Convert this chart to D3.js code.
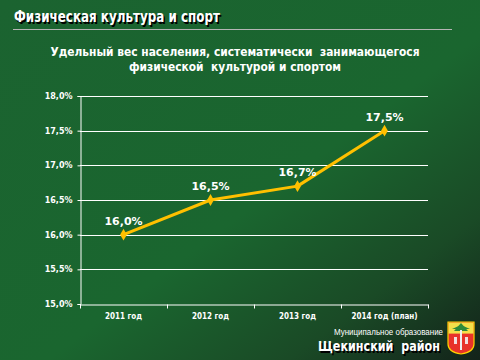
<!DOCTYPE html>
<html>
<head>
<meta charset="utf-8">
<script src="https://cdn.jsdelivr.net/npm/d3@7"></script>
<style>
  body { margin: 0; padding: 0; }
  svg { display: block; }
  text { white-space: pre; }
</style>
</head>
<body>
<svg id="chart" width="480" height="360"></svg>
<script>
// data
const years = ['2011 год', '2012 год', '2013 год', '2014 год (план)'];
const shares = [16.0, 16.5, 16.7, 17.5];
const yTicks = [15.0, 15.5, 16.0, 16.5, 17.0, 17.5, 18.0];
const headline = 'Физическая культура и спорт';
const subtitle = ['Удельный вес населения, систематически  занимающегося', 'физической  культурой и спортом'];
const subtitleWidths = [369, 212];

const svg = d3.select('#chart');
const W = 480, H = 360;

// background gradient, dark in lower right corner
let defs = svg.append('defs');
let bg = defs.append('linearGradient').attr('id', 'bg')
    .attr('x1', '0').attr('y1', '0').attr('x2', '1').attr('y2', '1');
bg.append('stop').attr('offset', '0%').attr('stop-color', '#1b6330');
bg.append('stop').attr('offset', '55%').attr('stop-color', '#1a662f');
bg.append('stop').attr('offset', '80%').attr('stop-color', '#1a4a26');
bg.append('stop').attr('offset', '100%').attr('stop-color', '#13231a');
svg.append('rect').attr('width', W).attr('height', H).attr('fill', 'url(#bg)');

// header with shadow
[['#000', 1.5], ['#fff', 0]].forEach(([c, o]) => {
    svg.append('text').attr('x', 14 + o).attr('y', 22 + o)
        .attr('fill', c).attr('font-family', 'DejaVu Sans Condensed, sans-serif')
        .attr('font-weight', 'bold').attr('font-size', 16)
        .attr('textLength', 206).attr('lengthAdjust', 'spacingAndGlyphs')
        .text(headline);
});
svg.append('line').attr('x1', 13).attr('x2', 452).attr('y1', 29.5).attr('y2', 29.5)
    .attr('stroke', '#b5b5b5').attr('stroke-width', 1);

svg.append('g').selectAll('text').data(subtitle).join('text')
    .attr('x', (d, i) => 235 - subtitleWidths[i] / 2).attr('y', (d, i) => 56 + i * 15)
    .attr('fill', '#fff')
    .attr('font-family', 'DejaVu Sans Condensed, sans-serif').attr('font-size', 12.5)
    .attr('font-weight', 'bold')
    .attr('textLength', (d, i) => subtitleWidths[i]).attr('lengthAdjust', 'spacingAndGlyphs')
    .text(d => d);

// chart area
const plotL = 80, plotR = 428, plotT = 96, plotB = 304;

const x = d3.scaleBand().domain(years).range([plotL, plotR]);
const y = d3.scaleLinear().domain([15, 18]).range([plotB, plotT]);

// grid
svg.append('g').selectAll('line').data(yTicks.slice(1)).join('line')
    .attr('x1', plotL).attr('x2', plotR)
    .attr('y1', d => Math.round(y(d)) + 0.5).attr('y2', d => Math.round(y(d)) + 0.5)
    .attr('stroke', '#fff').attr('stroke-width', 1);

// y axis
let yAxis = svg.append('g').attr('transform', `translate(${plotL + 0.5},0)`)
    .call(d3.axisLeft(y).tickValues(yTicks).tickSize(3).tickPadding(5)
        .tickFormat(d => d3.format('.1f')(d).replace('.', ',') + '%'));
yAxis.selectAll('path, line').attr('stroke', '#fff');
yAxis.selectAll('text').attr('fill', '#fff').attr('font-size', 8).attr('font-weight', 'bold')
    .attr('font-family', 'DejaVu Sans, sans-serif');

// x axis with ticks on band edges
let xAxis = svg.append('g').attr('transform', `translate(0,${Math.round(plotB) + 0.5})`)
    .call(d3.axisBottom(x).tickSize(0).tickPadding(9));
xAxis.select('path').attr('stroke', '#fff');
xAxis.selectAll('text').attr('fill', '#fff').attr('font-size', 8).attr('font-weight', 'bold')
    .attr('font-family', 'DejaVu Sans Condensed, sans-serif');
let edges = years.map(d => x(d)).concat([x(years[years.length - 1]) + x.bandwidth()]);
xAxis.selectAll('.edge').data(edges).join('line').attr('class', 'edge')
    .attr('x1', d => Math.round(d) + 0.5).attr('x2', d => Math.round(d) + 0.5)
    .attr('y1', 0).attr('y2', 4).attr('stroke', '#fff');

// line
const cx = d => x(d) + x.bandwidth() / 2;
const line = d3.line().x((d, i) => cx(years[i])).y(d => y(d));
svg.append('path').datum(shares).attr('d', line)
    .attr('fill', 'none').attr('stroke', '#ffc000').attr('stroke-width', 3)
    .attr('stroke-linejoin', 'round');

svg.append('g').selectAll('path').data(shares).join('path')
    .attr('transform', (d, i) => `translate(${cx(years[i])},${y(d)})`)
    .attr('d', d3.symbol(d3.symbolDiamond, 40))
    .attr('fill', '#ffc000');

svg.append('g').selectAll('text').data(shares).join('text')
    .attr('x', (d, i) => cx(years[i]))
    .attr('y', d => y(d) - 10)
    .attr('text-anchor', 'middle').attr('fill', '#fff')
    .attr('font-family', 'DejaVu Sans, sans-serif').attr('font-size', 11).attr('font-weight', 'bold')
    .text(d => d3.format('.1f')(d).replace('.', ',') + '%');

// municipality label
svg.append('text').attr('x', 334).attr('y', 335)
    .attr('fill', '#fff').attr('font-family', 'Liberation Sans Narrow, sans-serif').attr('font-size', 8.5)
    .attr('textLength', 109).attr('lengthAdjust', 'spacingAndGlyphs')
    .text('Муниципальное образование');
[['#000', 1.5], ['#fff', 0]].forEach(([c, o]) => {
    svg.append('text').attr('x', 318 + o).attr('y', 351 + o)
        .attr('fill', c).attr('font-family', 'DejaVu Sans, sans-serif').attr('font-size', 14)
        .attr('font-weight', 'bold')
        .attr('textLength', 122).attr('lengthAdjust', 'spacingAndGlyphs')
        .text('Щекинский  район');
});

// coat of arms
let arms = svg.append('g').attr('transform', 'translate(448,322)');
arms.append('path').attr('d', 'M0,0 H26 V22 Q26,30 13,32 Q0,30 0,22 Z')
    .attr('fill', '#e8322a').attr('stroke', '#ffd200').attr('stroke-width', 1.2);
arms.append('rect').attr('x', 0.6).attr('y', 0.6).attr('width', 24.8).attr('height', 11)
    .attr('fill', '#f4e04a');
arms.append('path').attr('d', 'M13,1 L20,9 L6,9 Z').attr('fill', '#2f8a3a');
arms.append('path').attr('d', 'M13,3 L22,7 L4,7 Z').attr('fill', '#2f8a3a');
arms.append('rect').attr('x', 12).attr('y', 8).attr('width', 2).attr('height', 20).attr('fill', '#eee');
arms.append('rect').attr('x', 6).attr('y', 15).attr('width', 3).attr('height', 7).attr('fill', '#f2dede');
arms.append('rect').attr('x', 17).attr('y', 15).attr('width', 3).attr('height', 7).attr('fill', '#f2dede');
</script>
</body>
</html>
